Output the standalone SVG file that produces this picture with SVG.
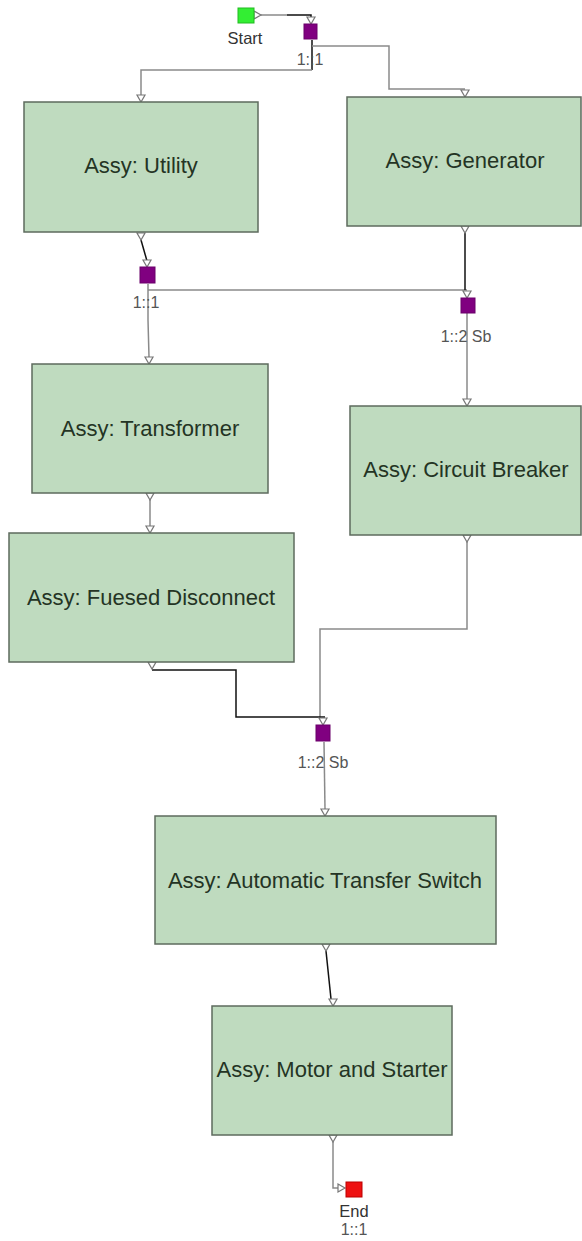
<svg xmlns="http://www.w3.org/2000/svg" xmlns:xlink="http://www.w3.org/1999/xlink" width="582" height="1241" viewBox="0 0 582 1241">
<style>
.box{fill:#bfdbbf;stroke:#5e6b5e;stroke-width:1.5}
.bt{font-family:"Liberation Sans",Arial,sans-serif;font-size:22px;fill:#243424;text-anchor:middle}
.lb{font-family:"Liberation Sans",Arial,sans-serif;font-size:16px;fill:#555;text-anchor:middle}
.sl{font-family:"Liberation Sans",Arial,sans-serif;font-size:16.5px;fill:#333;text-anchor:middle}
.c{fill:none;stroke:#8a8a8a;stroke-width:1.5}
.k{fill:none;stroke:#111;stroke-width:1.5}
.j{fill:#800080;stroke:#6a006a;stroke-width:1}
.tr{fill:#fff;stroke:#777;stroke-width:1.2}
</style>
<defs>
<path id="tri" class="tr" d="M-4,-7 L4,-7 L0,0 Z"/>
</defs>
<rect width="582" height="1241" fill="#fff"/>

<g id="connectors">
<path class="c" d="M261,15 H287"/>
<path class="k" d="M287,15 H311 V22"/>
<path class="k" d="M312,40 V70"/>
<path class="c" d="M312,70 H141 V95"/>
<path class="c" d="M312,46 H389 V89 H465"/>
<path class="k" d="M141,240 L147,261"/>
<path class="c" d="M148,284 V320 L149,357"/>
<path class="c" d="M148,290 H467"/>
<path class="k" d="M465,233 V290"/>
<path class="c" d="M467,313 V399"/>
<path class="c" d="M150,500 V526"/>
<path class="c" d="M467,542 V629 H320 V718"/>
<path class="k" d="M152,670 H236 V717 H325"/>
<path class="c" d="M324,742 L325,809"/>
<path class="k" d="M326,951 L331,999"/>
<path class="c" d="M333,1142 V1188 H338"/>
<use href="#tri" x="141" y="102"/>
<use href="#tri" x="465" y="97"/>
<use href="#tri" x="149" y="364"/>
<use href="#tri" x="467" y="406"/>
<use href="#tri" x="150" y="533"/>
<use href="#tri" x="325" y="816"/>
<use href="#tri" x="333" y="1006"/>
<use href="#tri" x="141" y="240"/>
<use href="#tri" x="465" y="233"/>
<use href="#tri" x="150" y="500"/>
<use href="#tri" x="467" y="542"/>
<use href="#tri" x="152" y="669"/>
<use href="#tri" x="326" y="951"/>
<use href="#tri" x="333" y="1142"/>
<use href="#tri" x="311" y="24"/>
<use href="#tri" x="147" y="267"/>
<use href="#tri" x="467" y="298"/>
<use href="#tri" x="323" y="725"/>
<path class="tr" d="M254,11 L254,19 L261,15 Z"/>
<path class="tr" d="M338,1184 L338,1192 L345,1188 Z"/>
</g>

<g id="start">
<rect x="238" y="8" width="16" height="15" fill="#33ee33" stroke="#22bb22" stroke-width="1"/>
<text class="sl" x="245" y="44">Start</text>
</g>

<g id="j1">
<rect class="j" x="304" y="24" width="13" height="15"/>
<text class="lb" x="310" y="65">1::1</text>
</g>

<g id="utility">
<rect class="box" x="24" y="102" width="234" height="130"/>
<text class="bt" x="141" y="173">Assy: Utility</text>
</g>

<g id="generator">
<rect class="box" x="347" y="97" width="234" height="129"/>
<text class="bt" x="465" y="168">Assy: Generator</text>
</g>

<g id="j2">
<rect class="j" x="140" y="267" width="15" height="16"/>
<text class="lb" x="146" y="308">1::1</text>
</g>

<g id="j3">
<rect class="j" x="461" y="298" width="14" height="15"/>
<text class="lb" x="466" y="342">1::2 Sb</text>
</g>

<g id="transformer">
<rect class="box" x="32" y="364" width="236" height="129"/>
<text class="bt" x="150" y="436">Assy: Transformer</text>
</g>

<g id="circuit-breaker">
<rect class="box" x="350" y="406" width="231" height="129"/>
<text class="bt" x="466" y="477">Assy: Circuit Breaker</text>
</g>

<g id="fuesed-disconnect">
<rect class="box" x="9" y="533" width="285" height="129"/>
<text class="bt" x="151" y="605">Assy: Fuesed Disconnect</text>
</g>

<g id="j4">
<rect class="j" x="316" y="725" width="14" height="16"/>
<text class="lb" x="323" y="768">1::2 Sb</text>
</g>

<g id="ats">
<rect class="box" x="155" y="816" width="341" height="128"/>
<text class="bt" x="325" y="888">Assy: Automatic Transfer Switch</text>
</g>

<g id="motor">
<rect class="box" x="212" y="1006" width="240" height="129"/>
<text class="bt" x="332" y="1077">Assy: Motor and Starter</text>
</g>

<g id="end">
<rect x="346" y="1182" width="16" height="15" fill="#ee1111" stroke="#bb0000" stroke-width="1"/>
<text class="sl" x="354" y="1217">End</text>
<text class="lb" x="354" y="1235">1::1</text>
</g>
</svg>
